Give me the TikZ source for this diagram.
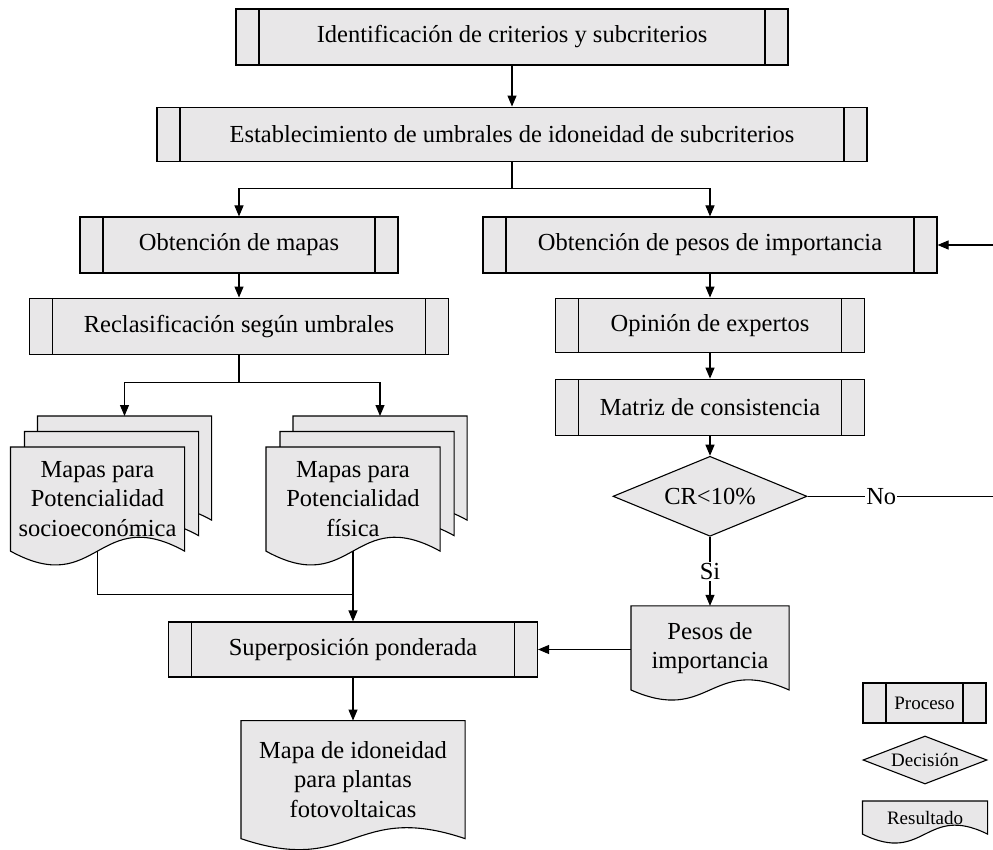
\documentclass[tikz,border=0pt]{standalone}
\usepackage{fontspec}
\setmainfont{Liberation Serif}
\usetikzlibrary{positioning,arrows.meta,calc,shapes.geometric,backgrounds}
\definecolor{boxfill}{RGB}{232,231,232}

\begin{document}
\begin{tikzpicture}[
    x=1pt, y=-1pt,
    line width=1.1pt,
    font=\fontsize{24.5}{29.5}\selectfont,
    proc/.style={
        draw,
        fill=boxfill,
        inner sep=0pt,
        minimum height=55pt,
        align=center,
        path picture={
            \draw ([xshift=23pt]path picture bounding box.north west) -- ([xshift=23pt]path picture bounding box.south west)
                  ([xshift=-23pt]path picture bounding box.north east) -- ([xshift=-23pt]path picture bounding box.south east);
        }
    },
    docu/.style={inner sep=0pt, align=center, anchor=north},
    docline/.style={draw=black, fill=boxfill, line width=1.1pt},
    decis/.style={draw, fill=boxfill, shape=diamond, inner sep=0pt, aspect=2.4},
    arrow/.style={-{Triangle[length=11pt,width=9pt]}},
    tag/.style={fill=white, inner sep=1pt},
    legend/.style={font=\fontsize{19}{22}\selectfont}
]
\useasboundingbox (0,0) rectangle (993,850);

% ============================================================
% CRITERIOS Y UMBRALES
% ============================================================
\node[proc, minimum width=552pt, minimum height=56pt] (idcrit) at (512,37) {Identificación de criterios y subcriterios};
\node[proc, minimum width=710pt, minimum height=54pt, below=41pt of idcrit] (umbral) {Establecimiento de umbrales de idoneidad de subcriterios};

\draw[arrow] (idcrit) -- (umbral);

% ============================================================
% RAMA DE MAPAS
% ============================================================
\node[proc, minimum width=318pt, minimum height=56pt] (mapas) at (239,245) {Obtención de mapas};
\node[proc, minimum width=419pt, minimum height=56pt, below=24pt of mapas] (reclas) {Reclasificación según umbrales};

\node[docu, minimum width=173pt, minimum height=103pt] (socB) at (124.5,416) {};
\node[docu, minimum width=173pt, minimum height=103pt] (socM) at ($(socB.north)+(-13,15.5)$) {};
\node[docu, minimum width=173pt, minimum height=103pt] (socF) at ($(socB.north)+(-27,31)$) {Mapas para\\Potencialidad\\socioeconómica};

\node[docu, minimum width=173pt, minimum height=103pt] (fisB) at (380,416) {};
\node[docu, minimum width=173pt, minimum height=103pt] (fisM) at ($(fisB.north)+(-13,15.5)$) {};
\node[docu, minimum width=173pt, minimum height=103pt] (fisF) at ($(fisB.north)+(-27,31)$) {Mapas para\\Potencialidad\\física};

\draw (umbral.south) -- ++(0,27) coordinate (split1);
\draw[arrow] (split1) -| (mapas.north);
\draw[arrow] (mapas) -- (reclas);
\draw (reclas.south) -- ++(0,28) coordinate (split2);
\draw[arrow] (split2) -| (socB.north);
\draw[arrow] (split2) -| (fisB.north);

% ============================================================
% RAMA DE PESOS
% ============================================================
\node[proc, minimum width=454pt, minimum height=56pt] (pesimp) at (710,245) {Obtención de pesos de importancia};
\node[proc, minimum width=309pt, minimum height=54pt, below=24pt of pesimp] (opinion) {Opinión de expertos};
\node[proc, minimum width=309pt, minimum height=56pt, below=26pt of opinion] (matriz) {Matriz de consistencia};
\node[decis, minimum width=194pt, minimum height=80pt, below=20pt of matriz] (crit) {CR<10\%};
\node[docu, minimum width=157pt, minimum height=83pt, below=69pt of crit] (pesdoc) {Pesos de\\importancia};

\draw[arrow] (split1) -| (pesimp.north);
\draw[arrow] (pesimp) -- (opinion);
\draw[arrow] (opinion) -- (matriz);
\draw[arrow] (matriz) -- (crit);
\draw[arrow] (crit.south) -- node[tag]{Si} (pesdoc.north);
\draw[arrow] (crit.east) -- node[tag, pos=0.39]{No} ++(189,0) coordinate (loopR) |- (pesimp.east);

% ============================================================
% SUPERPOSICION
% ============================================================
\node[proc, minimum width=369pt, minimum height=55pt] (superp) at (353,649.5) {Superposición ponderada};
\node[docu, minimum width=223pt, minimum height=117pt, below=43pt of superp] (mapdoc) {Mapa de idoneidad\\para plantas\\fotovoltaicas};

\draw (socF.south) -- ++(0,43) coordinate (joinL) -- (joinL -| fisF.south);
\draw[arrow] (fisF.south) -- (superp.north);
\draw[arrow] (pesdoc.west |- superp.east) -- (superp.east);
\draw[arrow] (superp) -- (mapdoc);

% ============================================================
% LEYENDA
% ============================================================
\node[proc, legend, minimum width=123pt, minimum height=40pt] (legproc) at (924.5,703) {Proceso};
\node[decis, legend, aspect=2.6, minimum width=124pt, minimum height=48pt] (legdec) at (925,760) {Decisión};
\node[docu, legend, minimum width=124pt, minimum height=32pt] (legres) at (925,801) {Resultado};

% ============================================================
% CONTORNOS DE DOCUMENTO (borde inferior ondulado)
% ============================================================
\begin{scope}[on background layer]
\foreach \doc/\wave in {socB/48, socM/48, socF/48, fisB/48, fisM/48, fisF/48, pesdoc/35, mapdoc/38, legres/31}
    \draw[docline] (\doc.north west) -- (\doc.north east) -- (\doc.south east)
        .. controls ($(\doc.south)+(0,-\wave)$) and ($(\doc.south)+(0,\wave)$) .. (\doc.south west) -- cycle;
\end{scope}

\end{tikzpicture}
\end{document}
